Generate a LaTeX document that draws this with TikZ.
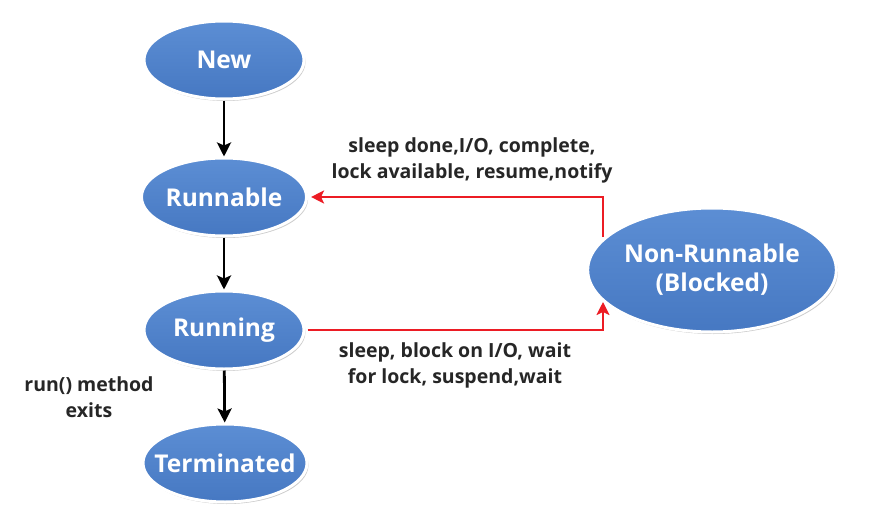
\documentclass[tikz,border=0pt]{standalone}
\usepackage{fontspec}
\setmainfont{Open Sans}
\usetikzlibrary{shapes.geometric,arrows.meta,shadows}
\definecolor{stateblue}{RGB}{70,120,194}
\definecolor{statetop}{RGB}{92,142,212}
\definecolor{linkred}{RGB}{236,28,36}

\begin{document}
\begin{tikzpicture}[x=1pt,y=-1pt,
    state/.style={ellipse, draw=white, line width=3pt, top color=statetop, bottom color=stateblue,
        text=white, font=\fontsize{24.5}{29}\selectfont\bfseries, minimum width=160pt, minimum height=78pt,
        inner sep=0pt, align=center, drop shadow={shadow xshift=1.5pt, shadow yshift=-2pt, opacity=0.4}},
    trans/.style={font=\fontsize{19.5}{26}\selectfont\bfseries, align=center, text=black!85}]
        \useasboundingbox (0,0) rectangle (870,511);

        % States
        \node[state] (new) at (224,60) {New};
        \node[state] (runnable) at (224,197) {Runnable};
        \node[state] (running) at (224,330) {Running};
        \node[state, inner xsep=-30pt, minimum width=164pt] (terminated) at (225,463) {Terminated};
        \node[state, minimum width=248pt, minimum height=124pt] (blocked) at (712,270) {Non-Runnable\\(Blocked)};

        % Normal flow
        \draw[-{Stealth[length=14pt,width=14pt,inset=3pt]}, line width=2.8pt] (new) -- (runnable);
        \draw[-{Stealth[length=14pt,width=14pt,inset=3pt]}, line width=2.8pt] (runnable) -- (running);
        \draw[-{Stealth[length=14pt,width=14pt,inset=3pt]}, line width=2.8pt] (running) -- (terminated);

        % Blocking and waking up
        \coordinate (wakeup) at (603,237);
        \coordinate (block) at (603,302);
        \draw[-{Stealth[length=13pt,width=13pt,inset=3pt]}, linkred, line width=2.2pt] (wakeup) |- ([xshift=3pt]runnable.east);
        \draw[-{Stealth[length=13pt,width=13pt,inset=3pt]}, linkred, line width=2.2pt] ([xshift=2pt]running.east) -| (block);

        % Labels
        \node[trans] (wakelbl) at (472,160) {sleep done,I/O, complete,\\lock available, resume,notify};
        \node[trans] (blocklbl) at (455,365) {sleep, block on I/O, wait\\for lock, suspend,wait};
        \node[trans] (exitlbl) at (89,397) {run() method\\exits};
    \end{tikzpicture}
\end{document}
